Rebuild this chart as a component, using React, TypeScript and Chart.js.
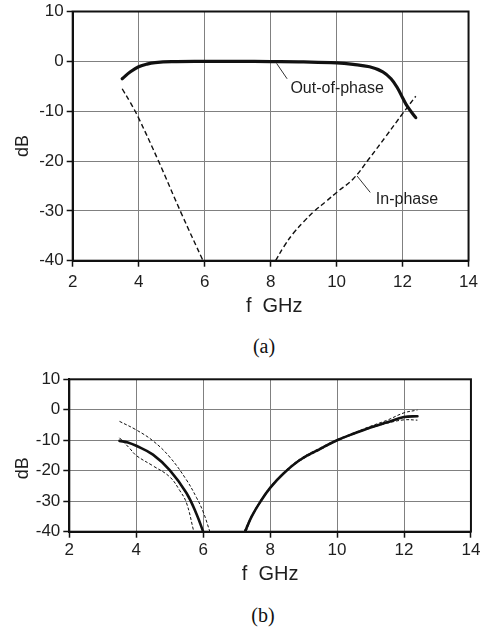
import React, { useEffect, useRef } from 'react';
import { Chart, registerables } from 'chart.js';

Chart.register(...registerables);

// ---------- axis ranges ----------
const xMin = 2;
const xMax = 14;
const xStep = 2;
const yMin = -40;
const yMax = 10;
const yStep = 10;

// ---------- chart (a) ----------
const aOutFreq = [3.5, 3.75, 4.0, 4.25, 4.5, 5.0, 6.0, 7.0, 8.0, 9.0, 10.0, 10.5, 11.0, 11.4, 11.65, 11.85, 12.0, 12.15, 12.4];
const aOutDb = [-3.5, -2.1, -1.1, -0.55, -0.25, -0.05, 0, 0, -0.05, -0.12, -0.3, -0.6, -1.1, -2.1, -3.5, -5.4, -7.3, -9.1, -11.3];

const aInLowFreq = [3.5, 3.75, 4.0, 4.6, 5.3, 5.95];
const aInLowDb = [-5.5, -8.3, -11.4, -20.0, -30.6, -40.0];

const aInHighFreq = [8.15, 8.4, 8.7, 9.0, 9.3, 9.7, 10.0, 10.5, 11.0, 11.5, 12.0, 12.4];
const aInHighDb = [-40.0, -37.2, -34.4, -32.2, -30.2, -28.0, -26.3, -23.6, -19.4, -15.0, -10.5, -7.0];

const aLabelText = ['Out-of-phase', 'In-phase'];
const aLabelX = [8.6, 11.19];
const aLabelY = [-6.4, -28.6];
const aLeaderX1 = [8.18, 10.62];
const aLeaderY1 = [-0.4, -23.0];
const aLeaderX2 = [8.5, 11.02];
const aLeaderY2 = [-3.5, -26.3];

// ---------- chart (b) ----------
const bLowFreq = [3.5, 3.75, 4.0, 4.5, 5.0, 5.5, 5.8, 6.0];
const bLowDb = [-10.2, -10.7, -11.8, -14.7, -19.8, -27.3, -34.2, -40.0];

const bLowUpperFreq = [3.5, 4.0, 4.5, 5.0, 5.5, 5.8, 6.0, 6.2];
const bLowUpperDb = [-3.8, -6.6, -10.2, -15.5, -23.0, -28.8, -33.5, -40.0];

const bLowLowerFreq = [3.5, 3.8, 4.0, 4.5, 5.0, 5.3, 5.5, 5.72];
const bLowLowerDb = [-9.2, -12.6, -15.0, -18.4, -22.0, -26.5, -30.5, -40.0];

const bHighFreq = [7.25, 7.45, 7.7, 8.0, 8.4, 8.9, 9.5, 10.0, 10.5, 11.0, 11.5, 12.0, 12.4];
const bHighDb = [-40.0, -35.0, -30.3, -25.6, -20.9, -16.4, -12.8, -10.0, -7.8, -5.8, -4.1, -2.4, -2.1];

const bHighUpperFreq = [7.22, 7.45, 7.7, 8.0, 8.4, 8.9, 9.5, 10.0, 10.5, 11.0, 11.5, 12.0, 12.4];
const bHighUpperDb = [-40.0, -34.7, -30.0, -25.3, -20.6, -16.1, -12.5, -9.8, -7.6, -5.4, -3.4, -1.0, -0.1];

const bHighLowerFreq = [7.28, 7.45, 7.7, 8.0, 8.4, 8.9, 9.5, 10.0, 10.5, 11.0, 11.5, 12.0, 12.4];
const bHighLowerDb = [-40.0, -35.3, -30.6, -25.9, -21.2, -16.7, -13.1, -10.2, -8.0, -6.0, -4.4, -3.3, -3.4];

const xTitle = 'f  GHz';
const yTitle = 'dB';

const SANS = '"Liberation Sans", Arial, Helvetica, sans-serif';
const TEXT = '#1e1e1e';

const pts = (xs: number[], ys: number[]) => xs.map((x, i) => ({ x, y: ys[i] }));

const solid = (label: string, xs: number[], ys: number[], width: number) => ({
  label,
  data: pts(xs, ys),
  borderColor: '#111',
  borderWidth: width,
  pointRadius: 0,
  fill: false,
  tension: 0.4,
  borderCapStyle: 'round' as const,
});

const dashed = (label: string, xs: number[], ys: number[], width: number, dash: number[]) => ({
  label,
  data: pts(xs, ys),
  borderColor: '#111',
  borderWidth: width,
  borderDash: dash,
  pointRadius: 0,
  fill: false,
  tension: 0.4,
});

const framePlugin = {
  id: 'frameAndTitles',
  afterDraw(chart: any, _args: any, opts: any) {
    const { ctx, chartArea, scales } = chart;
    const { left, right, top, bottom } = chartArea;
    ctx.save();
    // frame
    ctx.strokeStyle = '#111';
    ctx.lineWidth = 2;
    ctx.strokeRect(left, top, right - left, bottom - top);

    // axis titles
    ctx.fillStyle = TEXT;
    ctx.font = `${opts.xTitleSize}px ${SANS}`;
    ctx.textAlign = 'center';
    ctx.textBaseline = 'alphabetic';
    ctx.fillText(xTitle, (left + right) / 2 + opts.xTitleDx, bottom + opts.xTitleDy);

    ctx.save();
    ctx.font = `${opts.yTitleSize}px ${SANS}`;
    ctx.translate(opts.yTitleX, (top + bottom) / 2 + opts.yTitleDy);
    ctx.rotate(-Math.PI / 2);
    ctx.fillText(yTitle, 0, 0);
    ctx.restore();

    // annotations
    const labels: string[] = opts.labels || [];
    if (labels.length) {
      const sx = scales.x;
      const sy = scales.y;
      ctx.strokeStyle = '#333';
      ctx.lineWidth = 1;
      for (let i = 0; i < labels.length; i++) {
        ctx.beginPath();
        ctx.moveTo(sx.getPixelForValue(opts.lx1[i]), sy.getPixelForValue(opts.ly1[i]));
        ctx.lineTo(sx.getPixelForValue(opts.lx2[i]), sy.getPixelForValue(opts.ly2[i]));
        ctx.stroke();
      }
      ctx.font = `16px ${SANS}`;
      ctx.textAlign = 'left';
      ctx.textBaseline = 'alphabetic';
      for (let i = 0; i < labels.length; i++) {
        ctx.fillText(labels[i], sx.getPixelForValue(opts.tx[i]), sy.getPixelForValue(opts.ty[i]));
      }
    }
    ctx.restore();
  },
};

const makeScales = (yWidth: number, xHeight: number, xPad: number) => ({
  x: {
    type: 'linear' as const,
    min: xMin,
    max: xMax,
    ticks: {
      stepSize: xStep,
      color: TEXT,
      padding: xPad,
      maxRotation: 0,
      font: { family: SANS, size: 17, lineHeight: 1 },
    },
    grid: { color: '#808080', lineWidth: 1, tickColor: '#111', tickLength: 6, tickWidth: 1.5 },
    border: { color: '#111', width: 2 },
    afterFit: (s: any) => {
      s.height = xHeight;
    },
  },
  y: {
    type: 'linear' as const,
    min: yMin,
    max: yMax,
    ticks: {
      stepSize: yStep,
      color: TEXT,
      padding: 3,
      font: { family: SANS, size: 17, lineHeight: 1 },
    },
    grid: { color: '#808080', lineWidth: 1, tickColor: '#111', tickLength: 6, tickWidth: 1.5 },
    border: { color: '#111', width: 2 },
    afterFit: (s: any) => {
      s.width = yWidth;
    },
  },
});

export default function App() {
  const refA = useRef<HTMLCanvasElement>(null);
  const refB = useRef<HTMLCanvasElement>(null);

  useEffect(() => {
    const chartA = new Chart(refA.current as HTMLCanvasElement, {
      type: 'line',
      data: {
        datasets: [
          dashed('In-phase', aInLowFreq, aInLowDb, 1.4, [5, 3]),
          dashed('In-phase ', aInHighFreq, aInHighDb, 1.4, [5, 3]),
          solid('Out-of-phase', aOutFreq, aOutDb, 3.2),
        ],
      },
      options: {
        responsive: false,
        animation: false,
        layout: { padding: { left: 0, right: 10, top: 9.5, bottom: 0 } },
        scales: makeScales(72.7, 64.3, 7),
        plugins: {
          legend: { display: false },
          tooltip: { enabled: false },
          frameAndTitles: {
            xTitleSize: 20,
            xTitleDx: 3.6,
            xTitleDy: 51.3,
            yTitleSize: 18,
            yTitleX: 28,
            yTitleDy: 10,
            labels: aLabelText,
            tx: aLabelX,
            ty: aLabelY,
            lx1: aLeaderX1,
            ly1: aLeaderY1,
            lx2: aLeaderX2,
            ly2: aLeaderY2,
          },
        } as any,
      },
      plugins: [framePlugin],
    } as any);

    const chartB = new Chart(refB.current as HTMLCanvasElement, {
      type: 'line',
      data: {
        datasets: [
          dashed('Upper bound', bLowUpperFreq, bLowUpperDb, 1, [3, 2]),
          dashed('Lower bound', bLowLowerFreq, bLowLowerDb, 1, [3, 2]),
          dashed('Upper bound ', bHighUpperFreq, bHighUpperDb, 1, [3, 2]),
          dashed('Lower bound ', bHighLowerFreq, bHighLowerDb, 1, [3, 2]),
          solid('Nominal', bLowFreq, bLowDb, 2.6),
          solid('Nominal ', bHighFreq, bHighDb, 2.6),
        ],
      },
      options: {
        responsive: false,
        animation: false,
        layout: { padding: { left: 0, right: 12.3, top: 19.3, bottom: 0 } },
        scales: makeScales(69.3, 68.3, 4.6),
        plugins: {
          legend: { display: false },
          tooltip: { enabled: false },
          frameAndTitles: {
            xTitleSize: 20,
            xTitleDx: 0,
            xTitleDy: 48.3,
            yTitleSize: 18,
            yTitleX: 28,
            yTitleDy: 12.8,
            labels: [],
          },
        } as any,
      },
      plugins: [framePlugin],
    } as any);

    return () => {
      chartA.destroy();
      chartB.destroy();
    };
  }, []);

  const caption: React.CSSProperties = {
    position: 'absolute',
    width: 60,
    textAlign: 'center',
    fontFamily: '"Liberation Serif", "Times New Roman", serif',
    fontSize: 20,
    lineHeight: '24px',
    color: '#111',
  };

  return (
    <div style={{ position: 'absolute', left: 0, top: 0, width: 485, height: 630, background: '#fff' }}>
      <canvas ref={refA} width={485} height={325} style={{ position: 'absolute', left: 0, top: 0, display: 'block' }} />
      <div style={{ ...caption, left: 234, top: 334 }}>(a)</div>
      <canvas ref={refB} width={485} height={240} style={{ position: 'absolute', left: 0, top: 360, display: 'block' }} />
      <div style={{ ...caption, left: 233, top: 603 }}>(b)</div>
    </div>
  );
}
